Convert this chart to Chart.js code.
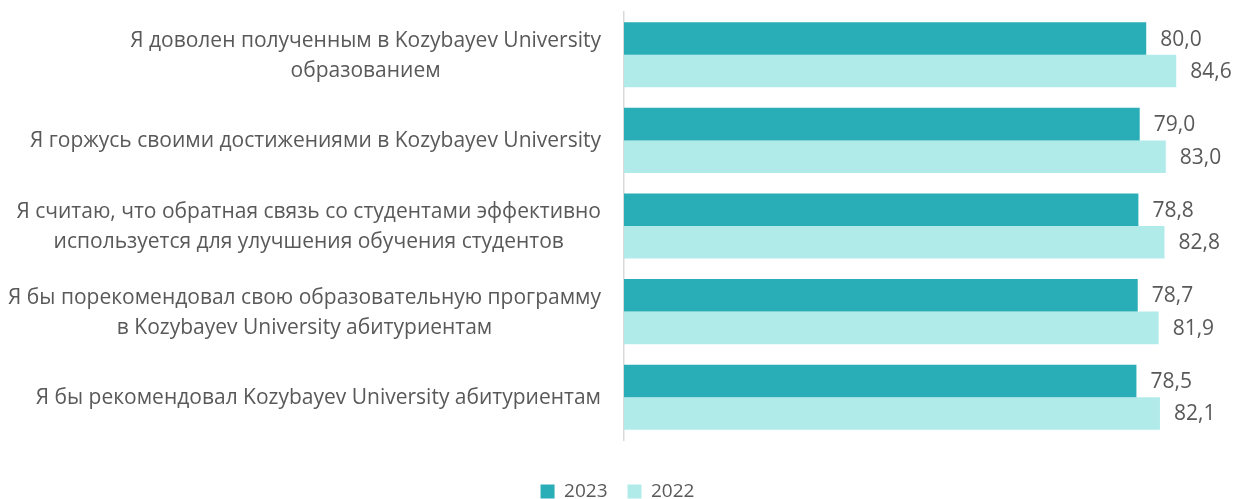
<!doctype html>
<html lang="ru">
  <head>
    <meta charset="UTF-8" />
    <title>Kozybayev University</title>
    <style>
      html, body { margin: 0; padding: 0; background: #ffffff; }
      #wrap { width: 1235px; height: 499px; position: relative; }
    </style>
  </head>
  <body>
    <div id="wrap"><canvas id="bars"></canvas></div>
    <script src="https://cdn.jsdelivr.net/npm/chart.js"></script>
    <script>
      const categories = [
        ['Я доволен полученным в Kozybayev University', 'образованием'],
        ['Я горжусь своими достижениями в Kozybayev University'],
        ['Я считаю, что обратная связь со студентами эффективно', 'используется для улучшения обучения студентов'],
        ['Я бы порекомендовал свою образовательную программу', 'в Kozybayev University абитуриентам'],
        ['Я бы рекомендовал Kozybayev University абитуриентам']
      ];
      const values2023 = [80.0, 79.0, 78.8, 78.7, 78.5];
      const values2022 = [84.6, 83.0, 82.8, 81.9, 82.1];

      const textColor = '#595959';
      const fontFamily = '"Open Sans", sans-serif';

      // category labels: lines centred on each other, block right-aligned to the axis
      const categoryLabels = {
        id: 'categoryLabels',
        afterDraw(chart) {
          const ctx = chart.ctx;
          const y = chart.scales.y;
          const right = y.right - 23;
          const lh = 30;
          ctx.save();
          ctx.font = '21px ' + fontFamily;
          ctx.fillStyle = textColor;
          ctx.textAlign = 'center';
          ctx.textBaseline = 'middle';
          categories.forEach((lines, i) => {
            const yc = y.getPixelForTick(i) + 1;
            const w = Math.max(...lines.map(l => ctx.measureText(l).width));
            const cx = right - w / 2;
            lines.forEach((l, j) => {
              ctx.fillText(l, cx, yc + (j - (lines.length - 1) / 2) * lh);
            });
          });
          ctx.restore();
        }
      };

      // value labels at the end of each bar
      const valueLabels = {
        id: 'valueLabels',
        afterDatasetsDraw(chart) {
          const ctx = chart.ctx;
          ctx.save();
          ctx.font = '21px ' + fontFamily;
          ctx.fillStyle = textColor;
          ctx.textAlign = 'left';
          ctx.textBaseline = 'middle';
          chart.data.datasets.forEach((ds, di) => {
            chart.getDatasetMeta(di).data.forEach((bar, i) => {
              ctx.fillText(ds.data[i].toFixed(1).replace('.', ','), bar.x + 14, bar.y + 1);
            });
          });
          ctx.restore();
        }
      };

      new Chart(document.getElementById('bars'), {
        type: 'bar',
        data: {
          labels: categories,
          datasets: [
            { label: '2023', data: values2023, backgroundColor: '#29adb6' },
            { label: '2022', data: values2022, backgroundColor: '#b0ebea' }
          ]
        },
        options: {
          indexAxis: 'y',
          responsive: true,
          maintainAspectRatio: false,
          animation: false,
          layout: { padding: { top: 12, right: 0, bottom: -12, left: 0 } },
          datasets: { bar: { categoryPercentage: 0.76, barPercentage: 1 } },
          scales: {
            x: {
              min: 0,
              max: 93.6,
              grid: { display: false },
              border: { display: false },
              ticks: { display: false },
              afterFit(scale) { scale.height = 22; }
            },
            y: {
              grid: { display: false },
              border: { color: '#d9d9d9', width: 1.5 },
              ticks: { display: false },
              afterFit(scale) { scale.width = 624; }
            }
          },
          plugins: {
            legend: {
              position: 'bottom',
              labels: {
                boxWidth: 14,
                boxHeight: 14,
                padding: 20,
                color: textColor,
                font: { size: 19, family: fontFamily }
              }
            },
            tooltip: { enabled: false }
          }
        },
        plugins: [categoryLabels, valueLabels]
      });
    </script>
  </body>
</html>
